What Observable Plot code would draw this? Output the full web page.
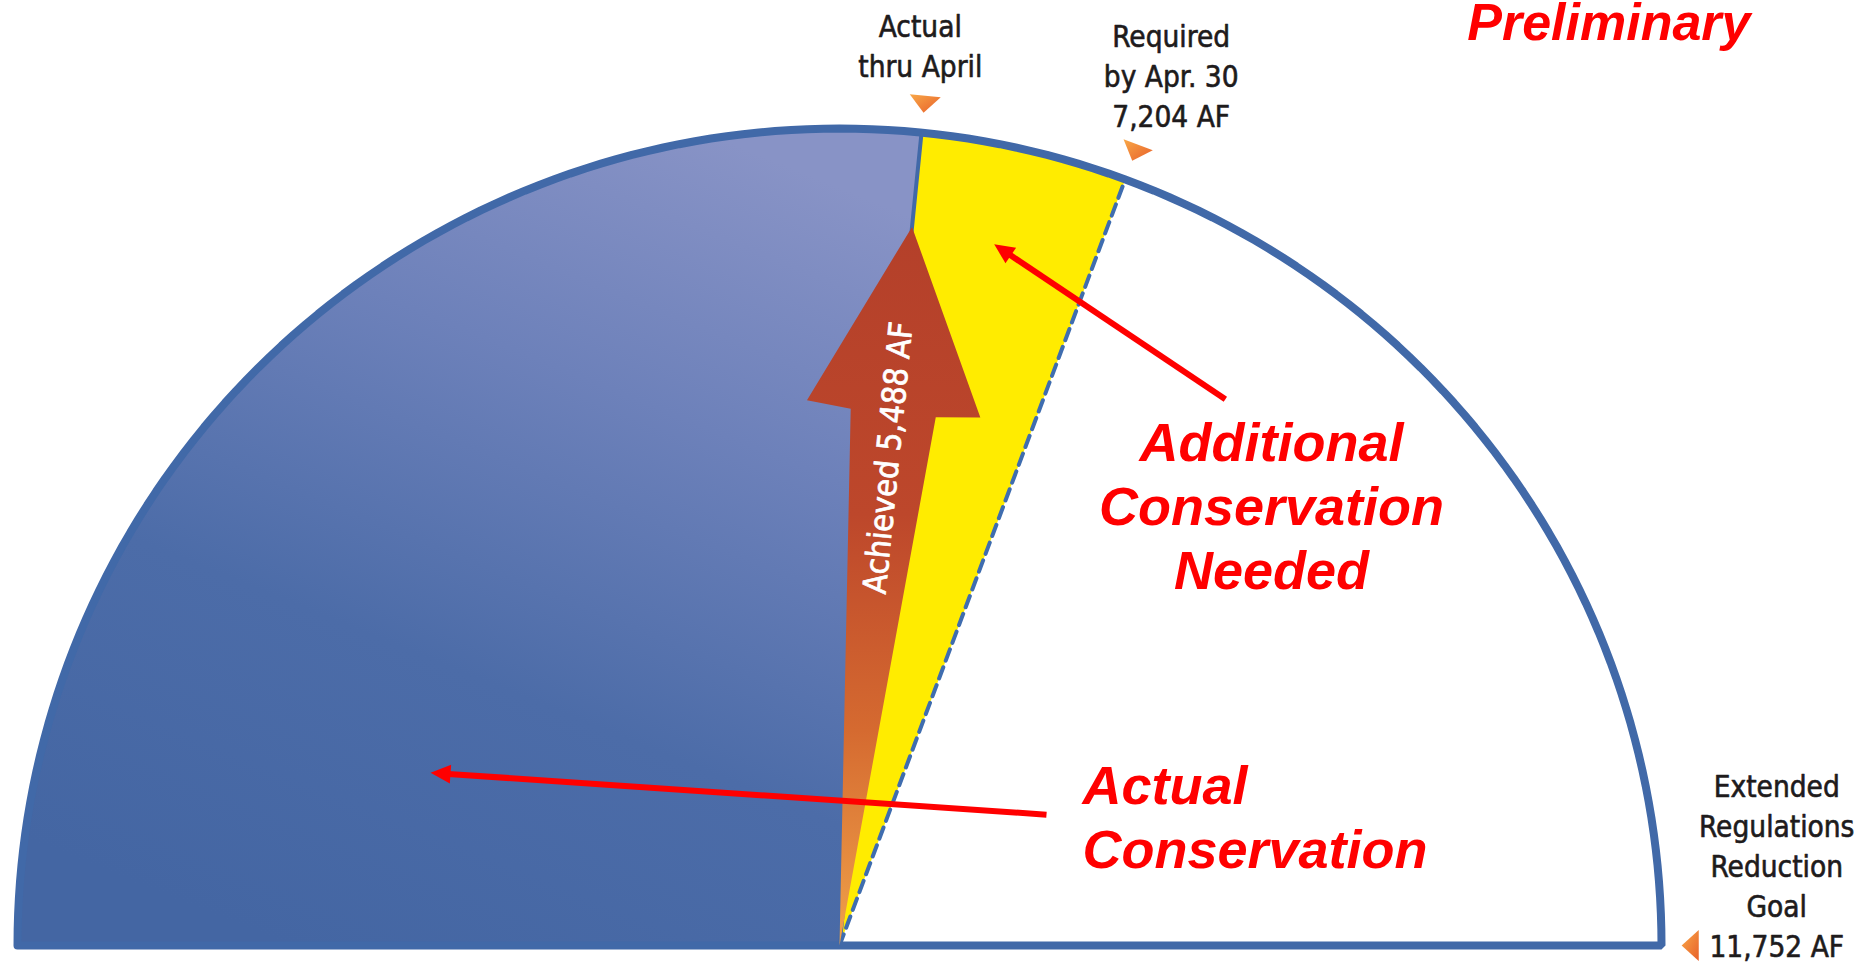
<!DOCTYPE html>
<html>
<head>
<meta charset="utf-8">
<script src="https://cdn.jsdelivr.net/npm/d3@7"></script>
<script src="https://cdn.jsdelivr.net/npm/@observablehq/plot@0.6"></script>
<style>
  html, body { margin: 0; padding: 0; background: #fff; overflow: hidden; }
  #chart svg { display: block; }
</style>
</head>
<body>
<div id="chart"></div>
<script>
// ---------------- data ----------------
const goalValue = 11752;                                   // full semicircle = goal
const milestoneNames  = ["actual", "required", "goal"];
const milestoneValues = [6250, 7204, 11752];              // actual boundary estimated from its angle
const milestoneLabels = [
  "Actual\nthru April",
  "Required\nby Apr. 30\n7,204 AF",
  "Extended\nRegulations\nReduction\nGoal\n11,752 AF"
];
const achievedLabel = "Achieved 5,488 AF";
const annotationLabels = ["Additional\nConservation\nNeeded", "Actual\nConservation"];
const statusLabel = "Preliminary";

// ---------------- layout (pixels) ----------------
const W = 1864, H = 965;
const RX = 822, RY = 817;  // gauge radii in px (stroke centre)
const CX = 839, CY = 945;  // gauge centre in px
const R_TIP = 1 + 20 / RY, R_BASE = 1 + 37 / RY, MARK_HW = 15.5 / RY;
const labelOffsets = [[-5, -19], [33, -18], [78, 11]];     // px from marker base to last baseline
const labelLineHeight = 40;
// big arrow outline in the gauge frame (u along needle, w across), radius units
const needleShape = [[0, 0], [0.655, 0.052], [0.66, 0.106], [0.884, 0], [0.66, -0.106], [0.655, -0.052]];
const needleLabelU = 0.60;
// red annotation arrows: [radius, degrees] from centre
const annotationArrows = [
  {from: [0.817, 54.93], to: [0.8786, 77.63]},
  {from: [0.2984, 32.45], to: [0.5406, 156.97]}
];
// red annotation texts: px from centre (x right, y up) of last baseline, anchor, line spacing
const annotationPos = [[432, 357, "middle", 64], [243, 78, "start", 64]];
const statusPos = [911, 906];

// ---------------- geometry helpers ----------------
const theta = v => Math.PI * (1 - v / goalValue);
const polar = (r, v) => [r * Math.cos(theta(v)), r * Math.sin(theta(v))];
const arc = (v0, v1, r = 1, n = 160) => d3.range(n + 1).map(i => polar(r, v0 + (v1 - v0) * i / n));
const along = (v, u, w) => {
  const t = theta(v);
  return [u * Math.cos(t) + w * Math.sin(t), u * Math.sin(t) - w * Math.cos(t)];
};
const polarDeg = ([r, deg]) => [r * Math.cos(deg * Math.PI / 180), r * Math.sin(deg * Math.PI / 180)];

const [actualV, requiredV, goalV] = milestoneValues;
const blueWedge = [[0, 0], ...arc(0, actualV)];
const yellowWedge = [[0, 0], ...arc(actualV, requiredV)];
const outline = [...arc(0, goalV), [-1, 0]];
const needle = needleShape.map(([u, w]) => along(actualV, u, w));

const markerTris = milestoneValues.flatMap((v, i) =>
  [along(v, R_TIP, 0), along(v, R_BASE, MARK_HW), along(v, R_BASE, -MARK_HW)].map(p => ({k: i, x: p[0], y: p[1]})));

const labelData = milestoneValues.map((v, i) => {
  const [bx, by] = along(v, R_BASE, 0);
  return {label: milestoneLabels[i], x: bx + labelOffsets[i][0] / RX, y: by - labelOffsets[i][1] / RY};
});

const HL = 20 / RX, HW = 9.5 / RX;
const redShafts = [], redHeads = [];
annotationArrows.forEach((a, i) => {
  const S = polarDeg(a.from), T = polarDeg(a.to);
  const dx = T[0] - S[0], dy = T[1] - S[1], L = Math.hypot(dx, dy);
  const ux = dx / L, uy = dy / L;
  const B = [T[0] - HL * ux, T[1] - HL * uy];
  redShafts.push({x1: S[0], y1: S[1], x2: B[0] + 2 / RX * ux, y2: B[1] + 2 / RX * uy});
  [T, [B[0] - HW * uy, B[1] + HW * ux], [B[0] + HW * uy, B[1] - HW * ux]].forEach(p => redHeads.push({k: i, x: p[0], y: p[1]}));
});

const labelFont = "'DejaVu Sans Condensed', 'Liberation Sans Narrow', 'Liberation Sans', Arial, sans-serif";
const redFont = "'Liberation Sans', Arial, sans-serif";
const BLUE = "#4169a8";

const px = d => d[0], py = d => d[1];
const needleLabelPos = along(actualV, needleLabelU, 0);

const marks = [
  Plot.line(blueWedge, {x: px, y: py, fill: "url(#blueGrad)", stroke: "none"}),
  Plot.line(yellowWedge, {x: px, y: py, fill: "#ffec00", stroke: "none"}),
  Plot.line([[0, 0], polar(1, actualV)], {x: px, y: py, stroke: BLUE, strokeWidth: 4}),
  Plot.line([[0, 0], polar(1, requiredV)], {x: px, y: py, stroke: "#3f6daf", strokeWidth: 4, strokeDasharray: "12,7"}),
  Plot.line(outline, {x: px, y: py, stroke: BLUE, strokeWidth: 8, strokeLinejoin: "miter"}),
  Plot.line(needle, {x: px, y: py, fill: "url(#needleGrad)", stroke: "none"}),
  Plot.text([achievedLabel], {
    x: () => needleLabelPos[0], y: () => needleLabelPos[1],
    text: d => d, rotate: -(theta(actualV) * 180 / Math.PI), fill: "white",
    stroke: "white", strokeWidth: 0.7,
    fontSize: 32.5, fontFamily: labelFont, textAnchor: "middle", lineAnchor: "middle"
  }),
  Plot.line(markerTris, {x: "x", y: "y", z: "k", fill: "url(#markGrad)", stroke: "none"}),
  Plot.text(labelData, {
    x: "x", y: "y", text: "label", fill: "#1e1b1c", stroke: "#1e1b1c", strokeWidth: 0.6,
    fontSize: 29.5, fontFamily: labelFont,
    textAnchor: "middle", lineAnchor: "bottom", lineHeight: labelLineHeight / 29.5
  }),
  Plot.link(redShafts, {x1: "x1", y1: "y1", x2: "x2", y2: "y2", stroke: "#ff0000", strokeWidth: 6}),
  Plot.line(redHeads, {x: "x", y: "y", z: "k", fill: "#ff0000", stroke: "none"}),
  ...annotationLabels.map((t, i) => Plot.text([t], {
    x: () => annotationPos[i][0] / RX, y: () => annotationPos[i][1] / RY, text: d => d,
    fill: "#ff0000", fontSize: 54, fontWeight: "bold", fontStyle: "italic", fontFamily: redFont,
    textAnchor: annotationPos[i][2], lineAnchor: "bottom", lineHeight: annotationPos[i][3] / 54
  })),
  Plot.text([statusLabel], {
    x: () => statusPos[0] / RX, y: () => statusPos[1] / RY, text: d => d,
    fill: "#ff0000", fontSize: 52, fontWeight: "bold", fontStyle: "italic", fontFamily: redFont,
    textAnchor: "end", lineAnchor: "bottom"
  })
];

const chart = Plot.plot({
  width: W, height: H, margin: 0,
  x: {domain: [-CX / RX, (W - CX) / RX], range: [0, W], axis: null},
  y: {domain: [-(H - CY) / RY, CY / RY], range: [H, 0], axis: null},
  style: {background: "white", overflow: "visible"},
  marks
});

// gradients
const svg = d3.select(chart);
const defs = svg.insert("defs", ":first-child");
function grad(id, x1, y1, x2, y2, stops) {
  const g = defs.append("linearGradient").attr("id", id)
    .attr("x1", x1).attr("y1", y1).attr("x2", x2).attr("y2", y2);
  stops.forEach(([o, c]) => g.append("stop").attr("offset", o).attr("stop-color", c));
}
grad("blueGrad", 0.75, 0, 0.3, 1, [[0, "#8893c6"], [0.3, "#6d81ba"], [0.65, "#4c6ca8"], [1, "#4466a3"]]);
grad("needleGrad", 0.5, 0, 0.5, 1, [[0, "#b4402a"], [0.4, "#bd472b"], [0.7, "#d56a30"], [1, "#f0a24a"]]);
grad("markGrad", 0, 0, 1, 1, [[0, "#f8a848"], [1, "#e8602a"]]);

document.getElementById("chart").appendChild(chart);
</script>
</body>
</html>
